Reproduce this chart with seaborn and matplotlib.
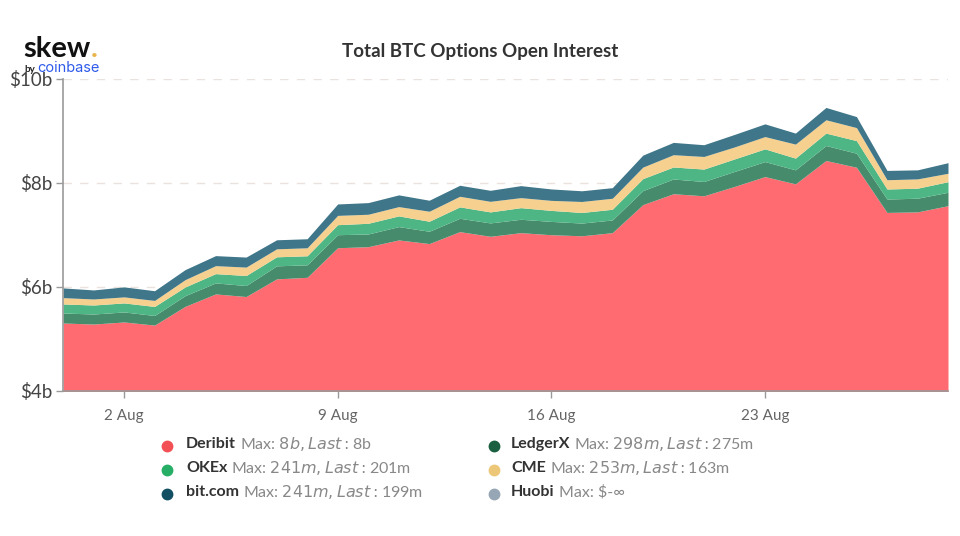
import matplotlib
matplotlib.use("Agg")
import matplotlib.pyplot as plt
import pandas as pd
import seaborn as sns
from matplotlib.lines import Line2D

# --- data ---
dates = pd.date_range("2021-07-31", periods=30, freq="D")

deribit_b = [5.30, 5.28, 5.32, 5.26, 5.62, 5.86, 5.81, 6.15, 6.18, 6.75,
             6.77, 6.90, 6.83, 7.06, 6.97, 7.04, 7.00, 6.98, 7.04, 7.58,
             7.79, 7.75, 7.93, 8.12, 7.98, 8.43, 8.30, 7.43, 7.44, 7.56]
ledgerx_m = [193, 193, 193, 185, 206, 212, 212, 251, 241, 251,
             245, 257, 237, 257, 258, 258, 257, 245, 245, 270,
             284, 276, 289, 289, 270, 289, 270, 258, 264, 258]
okex_m = [174, 174, 174, 174, 168, 179, 193, 174, 174, 193,
          206, 206, 193, 220, 212, 224, 212, 204, 206, 231,
          231, 239, 241, 245, 226, 239, 243, 193, 193, 204]
cme_m = [122, 116, 116, 116, 141, 154, 162, 154, 154, 179,
         174, 179, 193, 204, 204, 193, 193, 212, 212, 222,
         237, 243, 231, 237, 270, 257, 251, 179, 179, 162]
bitcom_m = [187, 174, 193, 187, 193, 193, 193, 174, 174, 220,
            224, 226, 212, 212, 212, 231, 220, 206, 204, 231,
            237, 226, 241, 245, 212, 237, 212, 179, 174, 204]

area_colors = ["#FF6B70", "#468C6C", "#4DB684", "#F5D08F", "#3F7689"]

y_ticks = [4, 6, 8, 10]
y_labels = ["$4b", "$6b", "$8b", "$10b"]
x_ticks = pd.to_datetime(["2021-08-02", "2021-08-09", "2021-08-16", "2021-08-23"])
x_labels = ["2 Aug", "9 Aug", "16 Aug", "23 Aug"]

legend_names = ["Deribit", "OKEx", "bit.com", "LedgerX", "CME", "Huobi"]
legend_stats = ["Max: $8b, Last: $8b", "Max: $241m, Last: $201m", "Max: $241m, Last: $199m",
                "Max: $298m, Last: $275m", "Max: $253m, Last: $163m", "Max: $-∞"]
legend_colors = ["#F25055", "#27AE66", "#124F63", "#1A5F40", "#EDC778", "#97A6B5"]

df = pd.DataFrame({
    "date": dates,
    "Deribit": deribit_b,
    "LedgerX": [v / 1000 for v in ledgerx_m],
    "OKEx": [v / 1000 for v in okex_m],
    "CME": [v / 1000 for v in cme_m],
    "bit.com": [v / 1000 for v in bitcom_m],
})

# --- plot ---
sns.set_theme(style="white")
plt.rcParams["font.family"] = ["Lato", "DejaVu Sans"]

W, H = 960, 536
fig = plt.figure(figsize=(W / 100, H / 100), dpi=100, facecolor="white")
ax = fig.add_axes([63 / W, 1 - 390.5 / H, 885 / W, 311.5 / H])

ax.stackplot(df["date"], df["Deribit"], df["LedgerX"], df["OKEx"], df["CME"], df["bit.com"],
             colors=area_colors, linewidth=0, zorder=2)

ax.set_xlim(dates[0], dates[-1])
ax.set_ylim(4, 10)
ax.set_yticks(y_ticks)
ax.set_yticklabels(y_labels)
ax.set_xticks(x_ticks)
ax.set_xticklabels(x_labels)
ax.set_xlabel("")
ax.set_ylabel("")

ax.grid(axis="y", color="#E9E2DF", linestyle=(0, (6, 6)), linewidth=1, zorder=1)
ax.set_axisbelow(True)
sns.despine(ax=ax, top=True, right=True)
for side in ["left", "bottom"]:
    ax.spines[side].set_color("#9A9A9A")
    ax.spines[side].set_linewidth(1.2)
    ax.spines[side].set_zorder(3)

ax.tick_params(axis="y", length=5, width=1, color="#9A9A9A", labelsize=13.5,
               labelcolor="#444444", pad=3, left=True)
ax.tick_params(axis="x", length=5, width=1, color="#9A9A9A", labelsize=11,
               labelcolor="#666666", pad=8, bottom=True)

# title
fig.text(480 / W, 1 - 52 / H, "Total BTC Options Open Interest", ha="center", va="center",
         fontsize=13.5, fontweight="bold", color="#333333")

# logo as text
logo = fig.text(23 / W, 1 - 57 / H, "skew", fontsize=21, fontweight="bold", color="#111111",
                ha="left", va="baseline", zorder=5)
fig.text(91 / W, 1 - 57 / H, ".", fontsize=21, fontweight="bold", color="#E9B44C",
         ha="left", va="baseline", zorder=5)
fig.text(24 / W, 1 - 72 / H, "by", fontsize=7, fontweight="bold", color="#222222",
         ha="left", va="baseline", zorder=5)
fig.text(37 / W, 1 - 72 / H, "coinbase", fontsize=10.5, color="#2F5BEA",
         ha="left", va="baseline", zorder=5, family=["Inter", "DejaVu Sans"])

# legend, two text runs per entry
renderer = fig.canvas.get_renderer()
legend_x = [(167, 186)] * 3 + [(494, 511)] * 3
legend_y = [444, 468, 492] * 2
for name, stat, color, (dot_x, text_x), y in zip(legend_names, legend_stats, legend_colors,
                                                  legend_x, legend_y):
    fig.add_artist(Line2D([dot_x / W], [1 - (y + 1.5) / H], marker="o", markersize=7.5, color=color,
                          linestyle="none", transform=fig.transFigure))
    t = fig.text(text_x / W, 1 - y / H, name, ha="left", va="center", fontsize=11.5,
                 fontweight="bold", color="#333333")
    end = t.get_window_extent(renderer).x1
    fig.text((end + 4) / W, 1 - y / H, stat, ha="left", va="center", fontsize=11.5,
             color="#888888")

fig.savefig("out.png", dpi=100)
